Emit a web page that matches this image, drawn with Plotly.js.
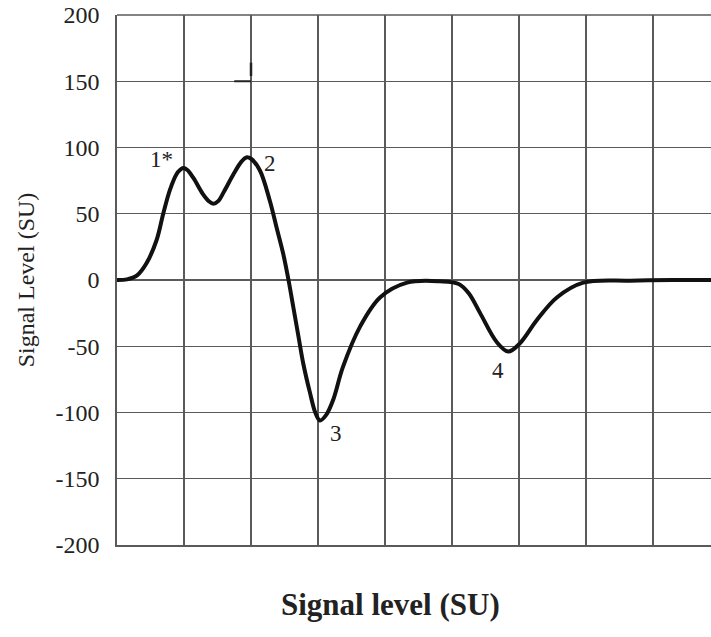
<!DOCTYPE html>
<html>
<head>
<meta charset="utf-8">
<script src="https://cdn.plot.ly/plotly-3.0.1.min.js"></script>
<style>html,body{margin:0;padding:0;background:#fff;}#chart{width:711px;height:637px;}</style>
</head>
<body>
<div id="chart"></div>
<script>
// Curve values (x in grid units, y in SU)
const curveX = [0, 0.15, 0.30, 0.44, 0.59, 0.69, 0.79, 0.89, 0.94, 0.99, 1.05, 1.14, 1.28, 1.37, 1.44, 1.51, 1.60, 1.74, 1.86, 1.93, 2.00, 2.13, 2.28, 2.38, 2.48, 2.56, 2.63, 2.71, 2.78, 2.88, 2.96, 3.03, 3.12, 3.23, 3.37, 3.63, 3.93, 4.33, 4.82, 5.10, 5.25, 5.42, 5.67, 5.84, 6.01, 6.27, 6.57, 6.96, 7.66, 8.30, 8.87];
const curveY = [0, 0.5, 3.5, 12.6, 30, 50, 68, 80, 83, 84.5, 83, 77, 65, 59.5, 57.5, 59.5, 67, 80, 89.5, 92.5, 91.5, 83, 60, 40, 20, 0, -20, -43, -63, -85, -100, -106, -102, -90, -66, -35, -13, -2, -1, -3, -10, -25, -47, -54, -48, -30, -13, -2, -0.5, 0, 0];

// Peak labels
const labelText = ["1*", "2", "3", "4"];
const labelX = [0.66, 2.28, 3.27, 5.69];
const labelY = [91, 88, -116, -68];

const yTicks = [-200, -150, -100, -50, 0, 50, 100, 150, 200];

const serif = "'Liberation Serif', 'Times New Roman', serif";
const gridColor = "#5a5a5a";

const traces = [{
  x: curveX,
  y: curveY,
  type: "scatter",
  mode: "lines",
  line: {color: "#111", width: 4, shape: "spline", smoothing: 1, simplify: false},
  hoverinfo: "skip",
  showlegend: false
}];

const annotations = labelText.map((t, i) => ({
  x: labelX[i], y: labelY[i], xref: "x", yref: "y",
  text: t, showarrow: false,
  font: {family: serif, size: 23, color: "#222"}
}));
annotations.push({
  x: 0.46, y: -0.113, xref: "paper", yref: "paper",
  xanchor: "center", yanchor: "middle",
  text: "<b>Signal level (SU)</b>", showarrow: false,
  font: {family: serif, size: 31, color: "#222"}
});

const layout = {
  width: 711,
  height: 637,
  margin: {l: 117, r: 0, t: 15, b: 92, pad: 0},
  paper_bgcolor: "#fff",
  plot_bgcolor: "#fff",
  showlegend: false,
  xaxis: {
    range: [0, 8.866],
    tick0: 0, dtick: 1,
    showticklabels: false,
    ticks: "",
    showgrid: true, gridcolor: gridColor, gridwidth: 1.4,
    zeroline: false,
    showline: true, linecolor: gridColor, linewidth: 1.6,
    fixedrange: true
  },
  yaxis: {
    range: [-200, 200],
    tickvals: yTicks,
    ticktext: yTicks.map(String),
    ticks: "",
    ticklabelstandoff: 11,
    tickfont: {family: serif, size: 24, color: "#222"},
    showgrid: true, gridcolor: gridColor, gridwidth: 1.4,
    zeroline: false,
    showline: true, linecolor: gridColor, linewidth: 1.6,
    fixedrange: true,
    title: {text: "Signal Level (SU)", font: {family: serif, size: 24, color: "#222"}, standoff: 14}
  },
  annotations: annotations,
  shapes: [
    {type: "line", xref: "paper", yref: "paper", x0: 0, x1: 1, y0: 1, y1: 1, line: {color: gridColor, width: 1.4}},
    {type: "line", xref: "x", yref: "y", x0: 2.58, x1: 2.75, y0: 200.8, y1: 200.8, line: {color: "#333", width: 2}},
    {type: "line", xref: "x", yref: "y", x0: 2.0, x1: 2.0, y0: 164, y1: 154, line: {color: "#222", width: 2.5}},
    {type: "line", xref: "x", yref: "y", x0: 1.75, x1: 2.0, y0: 150, y1: 150, line: {color: "#222", width: 2}}
  ]
};

Plotly.newPlot("chart", traces, layout, {displayModeBar: false, staticPlot: true});
</script>
</body>
</html>
